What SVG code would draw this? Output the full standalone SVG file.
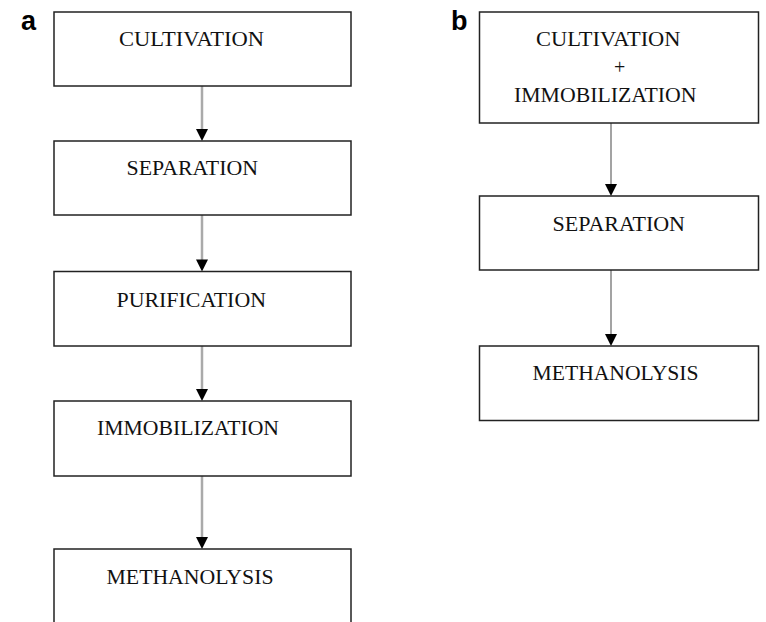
<svg xmlns="http://www.w3.org/2000/svg" width="766" height="622" viewBox="0 0 766 622">
<defs>
<style>
.box{fill:#fff;stroke:#222;stroke-width:1.5}
.t{font-family:"Liberation Serif","Times New Roman",serif;font-size:20px;fill:#111}
.lbl{font-family:"Liberation Sans",Arial,sans-serif;font-size:27px;font-weight:bold;fill:#000}
.ca{stroke:#aaa;stroke-width:2.5;fill:none}
.cb{stroke:#666;stroke-width:1.2;fill:none}
.head{fill:#000}
</style>
</defs>
<rect width="766" height="622" fill="#fff"/>
<text class="lbl" x="21" y="30">a</text>
<text class="lbl" x="451" y="30">b</text>
<g id="connectors">
<line class="ca" x1="202" y1="86" x2="202" y2="130"/>
<polygon class="head" points="196,129 208,129 202,141"/>
<line class="ca" x1="202" y1="215" x2="202" y2="260"/>
<polygon class="head" points="196,259.5 208,259.5 202,271.5"/>
<line class="ca" x1="202" y1="346" x2="202" y2="390"/>
<polygon class="head" points="196,389 208,389 202,401"/>
<line class="ca" x1="202" y1="476" x2="202" y2="538"/>
<polygon class="head" points="196,537 208,537 202,549"/>
<line class="cb" x1="611" y1="123" x2="611" y2="185"/>
<polygon class="head" points="605,184 617,184 611,196"/>
<line class="cb" x1="611" y1="270" x2="611" y2="335"/>
<polygon class="head" points="605,334 617,334 611,346"/>
</g>
<g id="a1"><rect class="box" x="54" y="12" width="297" height="74"/><text class="t" x="119" y="46" textLength="145" lengthAdjust="spacingAndGlyphs">CULTIVATION</text></g>
<g id="a2"><rect class="box" x="54" y="141" width="297" height="74"/><text class="t" x="126.5" y="175" textLength="131.5" lengthAdjust="spacingAndGlyphs">SEPARATION</text></g>
<g id="a3"><rect class="box" x="54" y="271.5" width="297" height="74.5"/><text class="t" x="116.5" y="306.5" textLength="149.5" lengthAdjust="spacingAndGlyphs">PURIFICATION</text></g>
<g id="a4"><rect class="box" x="54" y="401" width="297" height="75"/><text class="t" x="97" y="435" textLength="182" lengthAdjust="spacingAndGlyphs">IMMOBILIZATION</text></g>
<g id="a5"><rect class="box" x="54" y="549" width="297" height="80"/><text class="t" x="106.5" y="584" textLength="167" lengthAdjust="spacingAndGlyphs">METHANOLYSIS</text></g>
<g id="b1"><rect class="box" x="479.5" y="12" width="279" height="111"/><text class="t" x="536" y="46" textLength="144.5" lengthAdjust="spacingAndGlyphs">CULTIVATION</text><text class="t" x="614" y="74">+</text><text class="t" x="514" y="101.5" textLength="182.5" lengthAdjust="spacingAndGlyphs">IMMOBILIZATION</text></g>
<g id="b2"><rect class="box" x="479.5" y="196" width="279" height="74"/><text class="t" x="552.5" y="230.5" textLength="132.5" lengthAdjust="spacingAndGlyphs">SEPARATION</text></g>
<g id="b3"><rect class="box" x="479.5" y="346" width="279" height="74.5"/><text class="t" x="532.5" y="380" textLength="166" lengthAdjust="spacingAndGlyphs">METHANOLYSIS</text></g>
</svg>
